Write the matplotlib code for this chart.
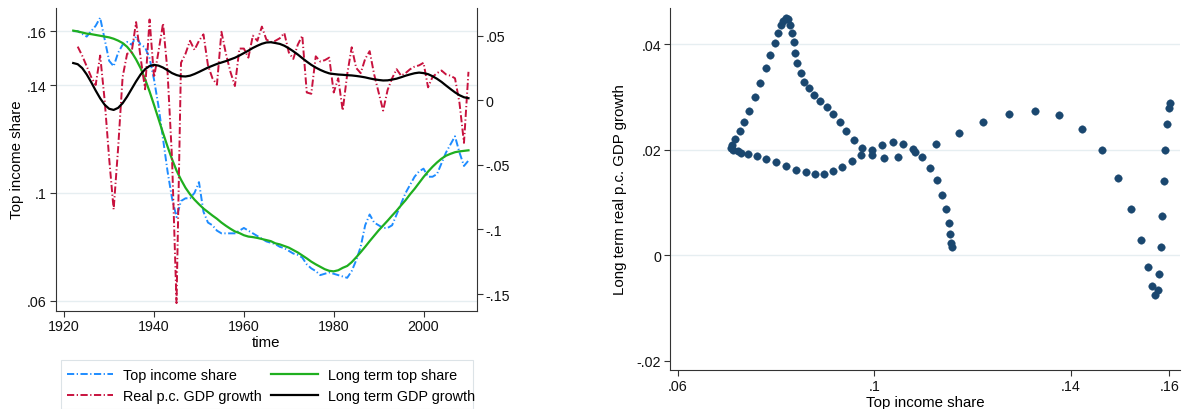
import numpy as np
import matplotlib
matplotlib.use('Agg')
import matplotlib.pyplot as plt
from matplotlib.patches import Rectangle

plt.rcParams['font.family'] = ['Liberation Sans', 'DejaVu Sans']
plt.rcParams['lines.scale_dashes'] = False

# ---------------- data ----------------
years = np.arange(1922, 2011)

top_share = [
    .160, .160, .159, .158, .160, .162, .165, .157, .149, .147,   # 1922-1931
    .152, .155, .156, .155, .158, .155, .154, .150, .142, .132,   # 1932-1941
    .120, .108, .098, .091, .097, .098, .098, .100, .104, .093,   # 1942-1951
    .089, .088, .086, .085, .085, .085, .085, .086, .087, .086,   # 1952-1961
    .085, .084, .083, .082, .0815, .081, .080, .0795, .0785, .0775,  # 1962-1971
    .077, .076, .0735, .072, .071, .0695, .070, .0705, .070, .0695,  # 1972-1981
    .069, .0685, .071, .075, .080, .088, .092, .089, .088, .087,  # 1982-1991
    .087, .088, .092, .096, .100, .103, .106, .108, .109, .106,   # 1992-2001
    .106, .107, .111, .115, .118, .121, .115, .110, .112,         # 2002-2010
]

gdp_growth = [
    np.nan, .0415, .0345, .0263, .018, .0118, .0346, .000, -.045, -.0845,  # 1922-1931
    -.037, .018, .036, .037, .0605, .033, .0085, .0625, .0176, .038,       # 1932-1941
    .0595, .022, -.045, -.157, .029, .036, .046, .039, .046, .051,         # 1942-1951
    .027, .017, .012, .053, .036, .022, .011, .040, .040, .033,            # 1952-1961
    .050, .046, .057, .047, .045, .046, .048, .052, .037, .032,            # 1962-1971
    .043, .050, .006, .005, .034, .030, .031, .033, .006, .017,            # 1972-1981
    -.008, .020, .041, .025, .021, .032, .038, .020, .006, -.008,          # 1982-1991
    .008, .017, .024, .019, .021, .024, .026, .027, .029, .010,            # 1992-2001
    .018, .021, .023, .020, .019, .017, -.002, -.033, .022,                # 2002-2010
]

lt_top_share = [
    .1602, .1599, .1595, .1591, .1589, .1586, .1583, .1580, .1577, .1572,  # 1922-1931
    .1565, .1556, .1542, .1522, .1495, .1463, .1422, .1376, .1326, .1274,  # 1932-1941
    .1222, .1172, .1125, .1083, .1049, .1019, .0995, .0975, .0958, .0942,  # 1942-1951
    .0929, .0916, .0904, .0890, .0878, .0867, .0857, .0851, .0843, .0838,  # 1952-1961
    .0836, .0833, .0829, .0825, .0821, .0813, .0809, .0803, .0797, .0788,  # 1962-1971
    .0779, .0768, .0757, .0745, .0735, .0726, .0717, .0711, .0709, .0713,  # 1972-1981
    .0722, .0729, .0743, .0761, .0780, .0800, .0821, .0841, .0861, .0879,  # 1982-1991
    .0897, .0916, .0934, .0954, .0973, .0995, .1015, .1037, .1059, .1079,  # 1992-2001
    .1097, .1113, .1127, .1138, .1145, .1151, .1154, .1156, .1158,         # 2002-2010
]

lt_gdp_growth = [
    .0288, .0279, .0249, .0200, .0140, .0075, .0015, -.0035, -.0066, -.0075,  # 1922-1931
    -.0059, -.0023, .0028, .0087, .0146, .0199, .0240, .0265, .0274, .0268,   # 1932-1941
    .0253, .0232, .0210, .0195, .0186, .0184, .0190, .0203, .0219, .0236,     # 1942-1951
    .0253, .0267, .0281, .0292, .0303, .0316, .0329, .0346, .0365, .0384,     # 1952-1961
    .0405, .0422, .0437, .0447, .0449, .0443, .0436, .0422, .0402, .0379,     # 1962-1971
    .0354, .0326, .0299, .0274, .0253, .0235, .0220, .0208, .0203, .0199,     # 1972-1981
    .0197, .0194, .0192, .0188, .0183, .0177, .0169, .0162, .0157, .0153,     # 1982-1991
    .0154, .0160, .0167, .0178, .0190, .0200, .0209, .0214, .0210, .0202,     # 1992-2001
    .0186, .0166, .0142, .0114, .0087, .0061, .0039, .0023, .0016,            # 2002-2010
]

series_labels = ["Top income share", "Real p.c. GDP growth",
                 "Long term top share", "Long term GDP growth"]

left_xticks = [1920, 1940, 1960, 1980, 2000]
left_yticks = [.06, .1, .14, .16]
left_ytick_labels = ['.06', '.1', '.14', '.16']
right_yticks = [.05, 0, -.05, -.1, -.15]
right_ytick_labels = ['.05', '0', '-.05', '-.1', '-.15']
sc_xticks = [.06, .1, .14, .16]
sc_xtick_labels = ['.06', '.1', '.14', '.16']
sc_yticks = [-.02, 0, .02, .04]
sc_ytick_labels = ['-.02', '0', '.02', '.04']

# ---------------- style ----------------
W, H = 1187, 410
fig = plt.figure(figsize=(W / 100, H / 100), dpi=100)
fig.patch.set_facecolor('white')

def px(l, t, r, b):
    return [l / W, 1 - b / H, (r - l) / W, (b - t) / H]

BLUE = '#1E8CFF'
RED = '#C8123E'
GREEN = '#1FAF1F'
NAVY = '#1a476f'
GRID = '#E6EEF1'
AXC = '#333333'
TICK_FS = 10.3
LAB_FS = 10.8
DASHDOT = (0, (5.2, 1.8, 0.9, 1.8))

def style_axis(ax):
    ax.tick_params(axis='both', which='both', direction='out', length=4.3,
                   width=0.8, color=AXC, labelsize=TICK_FS, pad=2,
                   labelcolor='#111111')
    for s in ax.spines.values():
        s.set_color(AXC)
        s.set_linewidth(0.8)

# ---------------- left panel ----------------
ax1 = fig.add_axes(px(55.7, 9, 477, 311.7))
ax2 = ax1.twinx()
ax2.set_position(ax1.get_position())

ax1.set_xlim(1918.1, 2011.9)
ax1.set_ylim(.0563, .1686)
ax2.set_ylim(-.1629, .0714)

for y in left_yticks:
    ax1.axhline(y, color=GRID, lw=1.0, zorder=0)

l_blue, = ax1.plot(years, top_share, color=BLUE, lw=1.4, ls=DASHDOT, zorder=2)
l_green, = ax1.plot(years, lt_top_share, color=GREEN, lw=1.6, zorder=3)
l_red, = ax2.plot(years, gdp_growth, color=RED, lw=1.4, ls=DASHDOT, zorder=2)
l_black, = ax2.plot(years, lt_gdp_growth, color='black', lw=1.6, zorder=3)

ax1.set_xticks(left_xticks)
ax1.set_xticklabels([str(v) for v in left_xticks])
ax1.set_yticks(left_yticks)
ax1.set_yticklabels(left_ytick_labels)
ax2.set_yticks(right_yticks)
ax2.set_yticklabels(right_ytick_labels)

style_axis(ax1)
style_axis(ax2)
ax1.spines['top'].set_visible(False)
ax2.spines['top'].set_visible(False)
ax2.spines['left'].set_visible(False)
ax2.spines['bottom'].set_visible(False)
ax1.spines['right'].set_visible(False)
ax1.patch.set_visible(False)

fig.text(16.7 / W, 1 - 160 / H, "Top income share", rotation=90,
         ha='center', va='center', fontsize=LAB_FS)
fig.text(266.5 / W, 1 - 343.3 / H, "time", ha='center', va='center',
         fontsize=LAB_FS)

# legend box (drawn separately) and legend entries
fig.patches.append(Rectangle((61 / W, 0.5 / H), 411.7 / W, 48.5 / H,
                             transform=fig.transFigure, facecolor='white',
                             edgecolor='#DCE3E7', lw=0.8, zorder=0))
leg = fig.legend([l_blue, l_red, l_green, l_black], series_labels, ncol=2,
                 loc='upper left',
                 bbox_to_anchor=(66.7 / W, 1 - 369 / H),
                 borderaxespad=0, frameon=False, fontsize=10.4,
                 handlelength=3.2, handletextpad=0.7, labelspacing=0.48,
                 borderpad=0, columnspacing=0.67)

# ---------------- right panel ----------------
ax3 = fig.add_axes(px(670, 9.3, 1180, 371))
ax3.set_xlim(.0584, .1622)
ax3.set_ylim(-.0218, .0468)
for y in sc_yticks[1:]:
    ax3.axhline(y, color=GRID, lw=1.0, zorder=0)
ax3.plot(lt_top_share, lt_gdp_growth, 'o', ms=5.4, color=NAVY, mec=NAVY,
         mew=0.3, zorder=3)
ax3.set_xticks(sc_xticks)
ax3.set_xticklabels(sc_xtick_labels)
ax3.set_yticks(sc_yticks)
ax3.set_yticklabels(sc_ytick_labels)
style_axis(ax3)
ax3.spines['top'].set_visible(False)
ax3.spines['right'].set_visible(False)

fig.text(620 / W, 1 - 190 / H, "Long term real p.c. GDP growth", rotation=90,
         ha='center', va='center', fontsize=LAB_FS)
fig.text(925 / W, 1 - 403 / H, "Top income share", ha='center', va='center',
         fontsize=LAB_FS)

fig.savefig('out.png', dpi=100, facecolor='white')
